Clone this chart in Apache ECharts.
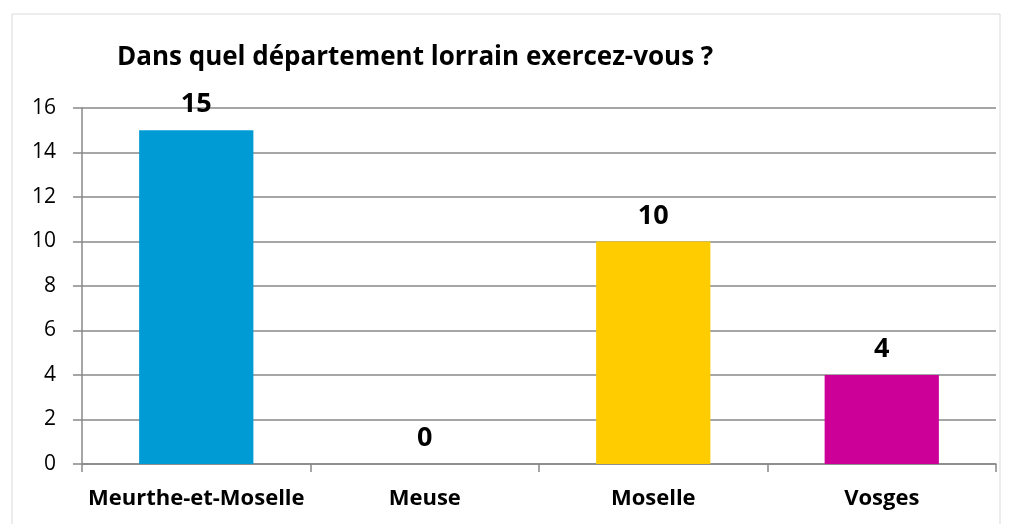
<!DOCTYPE html>
<html>
<head>
<meta charset="utf-8">
<script src="https://cdn.jsdelivr.net/npm/echarts@6/dist/echarts.min.js"></script>
<style>
  html, body { margin: 0; padding: 0; background: #fff; }
  #chart { width: 1011px; height: 524px; }
</style>
</head>
<body>
<div id="chart"></div>
<script>
  // departments and answer counts
  var categories = ['Meurthe-et-Moselle', 'Meuse', 'Moselle', 'Vosges'];
  var counts = [15, 0, 10, 4];
  var barColors = ['#009BD4', '#0070C0', '#FFCC00', '#CC0099'];
  var titleText = 'Dans quel département lorrain exercez-vous ?';

  var myChart = echarts.init(document.getElementById('chart'));

  var option = {
    backgroundColor: '#fff',
    animation: false,
    textStyle: { fontFamily: 'Open Sans' },
    title: {
      text: titleText,
      left: 112,
      top: 40,
      textStyle: { fontSize: 26, fontWeight: 'bold', color: '#000', fontFamily: 'Open Sans' }
    },
    graphic: [
      {
        type: 'rect',
        shape: { x: 12, y: 14, width: 988, height: 520 },
        style: { fill: 'none', stroke: '#d9d9d9', lineWidth: 1 },
        silent: true
      }
    ],
    grid: { left: 82, right: 15, top: 108, bottom: 60 },
    xAxis: {
      type: 'category',
      data: categories,
      axisLine: { lineStyle: { color: '#888', width: 1.5 } },
      axisTick: { show: true, length: 8, lineStyle: { color: '#888', width: 1.5 } },
      axisLabel: { color: '#000', fontSize: 22, fontWeight: 'bold', margin: 24, interval: 0 }
    },
    yAxis: {
      type: 'value',
      min: 0,
      max: 16,
      interval: 2,
      axisLine: { show: true, lineStyle: { color: '#888', width: 1.5 } },
      axisTick: { show: true, length: 9, lineStyle: { color: '#888', width: 1.5 } },
      axisLabel: { color: '#000', fontSize: 21, margin: 26 },
      splitLine: { lineStyle: { color: '#888', width: 1.5 } }
    },
    series: [
      {
        type: 'bar',
        barWidth: '50%',
        data: counts.map(function (v, i) {
          return { value: v, itemStyle: { color: barColors[i] } };
        }),
        label: {
          show: true,
          position: 'top',
          distance: 12,
          color: '#000',
          fontSize: 27,
          fontWeight: 'bold'
        }
      }
    ]
  };

  myChart.setOption(option);
</script>
</body>
</html>
